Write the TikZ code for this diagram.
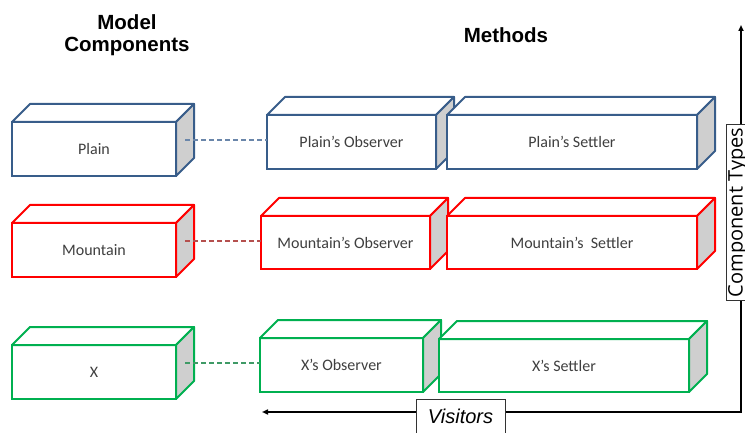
\documentclass[tikz,border=0pt]{standalone}
\usepackage{fontspec}
\setmainfont{Carlito}
\newfontfamily\headfont{Liberation Sans}
\newfontfamily\axisfont{Open Sans}
\usetikzlibrary{arrows.meta,calc}

\definecolor{plainblue}{HTML}{385D8A}
\definecolor{mountred}{HTML}{FF0000}
\definecolor{xgreen}{HTML}{00B050}
\definecolor{sidegray}{HTML}{CFCFCF}
\definecolor{textgray}{HTML}{3F3F3F}
\definecolor{bluedash}{HTML}{6A86AA}
\definecolor{reddash}{HTML}{B5504E}
\definecolor{greendash}{HTML}{3F9A66}

\tikzset{
  front/.style={draw=#1, line width=2pt, fill=white, outer sep=0pt,
    inner sep=0pt, minimum height=54pt, text=textgray,
    font=\fontsize{16}{18}\selectfont},
  face/.style={draw=#1, line width=2pt, line join=round},
  link/.style={draw=#1, line width=1.2pt, dash pattern=on 5pt off 3pt},
  head/.style={font=\headfont\bfseries\fontsize{20.5}{22}\selectfont,
    align=center, inner sep=0pt},
  labelbox/.style={draw=black!80, line width=1pt, fill=white},
  axis/.style={line width=1.5pt, line join=miter,
    {Triangle[length=6pt,width=5pt]}-{Triangle[length=6pt,width=5pt]}},
}

% top and side faces of a cuboid whose front face is node #1
\newcommand\cubefaces[2]{%
  \draw[face=#2, fill=white] (#1.north west) -- ++(18,-18)
    -- ($(#1.north east)+(18,-18)$) -- (#1.north east) -- cycle;
  \draw[face=#2, fill=sidegray] (#1.north east) -- ++(18,-18)
    -- ($(#1.south east)+(18,-18)$) -- (#1.south east) -- cycle;
  \coordinate (#1-side) at ($(#1.east)+(9,-9)$);
}

\begin{document}
\begin{tikzpicture}[x=1pt,y=-1pt]
\useasboundingbox (0,0) rectangle (745,433);

% column headings
\node[head] (hmodel) at (127,35) {Model\\Components};
\node[head] (hmethods) at (506,35) {Methods};

% row: Plain
\node[front=plainblue, minimum width=164pt] (plain) at (94,149) {Plain};
\cubefaces{plain}{plainblue}
\node[front=plainblue, minimum width=169pt] (pobs) at (351.5,142) {Plain’s Observer};
\cubefaces{pobs}{plainblue}
\node[front=plainblue, minimum width=250pt] (pset) at (572,142) {Plain’s Settler};
\cubefaces{pset}{plainblue}

% row: Mountain
\node[front=mountred, minimum width=164pt] (mount) at (94,250) {Mountain};
\cubefaces{mount}{mountred}
\node[front=mountred, minimum width=169pt, minimum height=53pt] (mobs) at (345.5,242.5) {Mountain’s Observer};
\cubefaces{mobs}{mountred}
\node[front=mountred, minimum width=250pt, minimum height=53pt] (mset) at (572,242.5) {Mountain’s~ Settler};
\cubefaces{mset}{mountred}

% row: X
\node[front=xgreen, minimum width=164pt] (xcomp) at (94,372) {X};
\cubefaces{xcomp}{xgreen}
\node[front=xgreen, minimum width=163pt] (xobs) at (341.5,365) {X’s Observer};
\cubefaces{xobs}{xgreen}
\node[front=xgreen, minimum width=250pt, minimum height=53pt] (xset) at (564,365.5) {X’s Settler};
\cubefaces{xset}{xgreen}

% dashed links from components to their observers
\draw[link=bluedash] (plain-side) -- (plain-side -| pobs.west);
\draw[link=reddash] (mount-side) -- (mount-side -| mobs.west);
\draw[link=greendash] (xcomp-side) -- (xcomp-side -| xobs.west);

% axes
\coordinate (corner) at (741,412);
\coordinate (vtop) at (741,25);
\coordinate (hend) at (262,412);
\draw[axis] (vtop) -- (corner) -- (hend);

\node[labelbox, rotate=90, anchor=north, minimum width=175pt,
  inner xsep=0pt, inner ysep=1pt, text height=15pt, text depth=20pt,
  font=\axisfont\fontsize{20}{22}\selectfont] (ctypes) at (726,212.5) {Component Types};
\node[labelbox, anchor=north, minimum width=89pt, minimum height=44pt,
  inner sep=0pt, text height=14pt, text depth=10pt,
  font=\headfont\itshape\fontsize{20}{22}\selectfont] (visitors) at (460.5,399) {Visitors};
\end{tikzpicture}
\end{document}
